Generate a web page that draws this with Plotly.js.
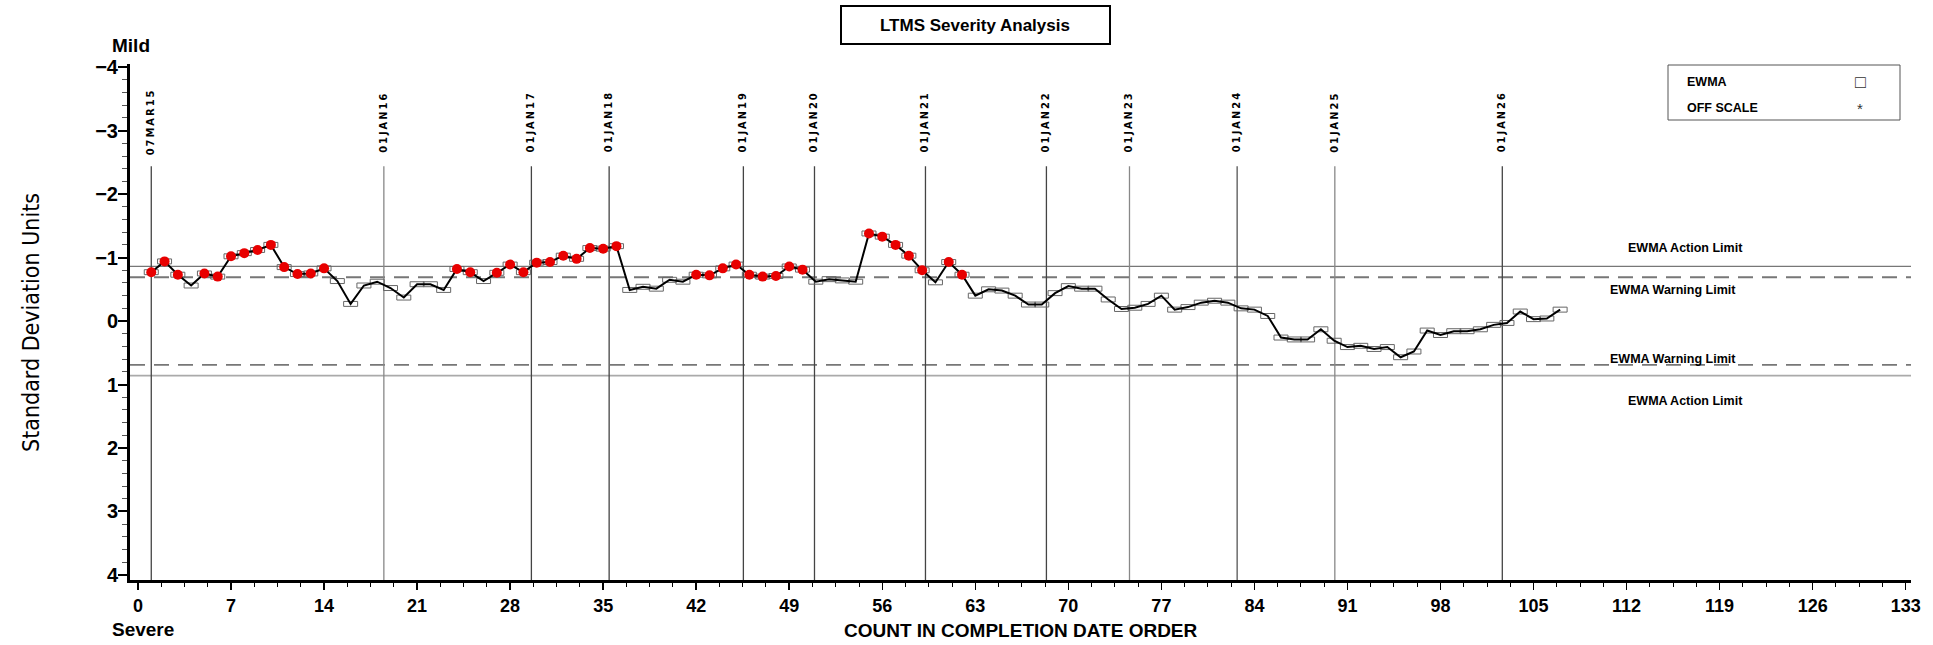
<!DOCTYPE html>
<html><head><meta charset="utf-8">
<script src="https://cdn.plot.ly/plotly-3.0.1.min.js"></script>
<style>html,body{margin:0;padding:0;background:#fff;}#chart{width:1933px;height:645px;}</style>
</head><body><div id="chart"></div>
<script>
// ---------------- data ----------------
const counts = [1,2,3,4,5,6,7,8,9,10,11,12,13,14,15,16,17,18,19,20,21,22,23,24,25,26,27,28,29,30,
  31,32,33,34,35,36,37,38,39,40,41,42,43,44,45,46,47,48,49,50,51,52,53,54,55,56,57,58,59,60,
  61,62,63,64,65,66,67,68,69,70,71,72,73,74,75,76,77,78,79,80,81,82,83,84,85,86,87,88,89,90,
  91,92,93,94,95,96,97,98,99,100,101,102,103,104,105,106,107];
const ewma = [-0.77,-0.94,-0.73,-0.56,-0.75,-0.70,-1.02,-1.07,-1.12,-1.20,
  -0.85,-0.74,-0.75,-0.83,-0.63,-0.27,-0.56,-0.62,-0.52,-0.37,
  -0.58,-0.58,-0.49,-0.82,-0.77,-0.63,-0.76,-0.89,-0.77,-0.92,
  -0.93,-1.03,-0.98,-1.15,-1.14,-1.18,-0.49,-0.54,-0.51,-0.65,
  -0.62,-0.73,-0.72,-0.83,-0.89,-0.73,-0.70,-0.71,-0.86,-0.81,
  -0.62,-0.66,-0.64,-0.62,-1.38,-1.33,-1.20,-1.03,-0.80,-0.61,
  -0.93,-0.73,-0.40,-0.50,-0.48,-0.40,-0.26,-0.26,-0.44,-0.55,
  -0.51,-0.51,-0.34,-0.19,-0.21,-0.27,-0.40,-0.18,-0.22,-0.29,
  -0.32,-0.29,-0.20,-0.18,-0.08,0.26,0.29,0.29,0.13,0.31,
  0.41,0.39,0.44,0.41,0.57,0.48,0.15,0.22,0.16,0.16,
  0.13,0.06,0.03,-0.15,-0.03,-0.04,-0.18];
const flaggedCounts = [1,2,3,5,6,7,8,9,10,11,12,13,14,24,25,27,28,29,30,31,32,33,34,35,36,
  42,43,44,45,46,47,48,49,50,55,56,57,58,59,61,62];
const dateLineCounts = [1,18.5,29.6,35.45,45.55,50.9,59.25,68.35,74.6,82.7,90.05,102.65];
const dateLineLabels = ['07MAR15','01JAN16','01JAN17','01JAN18','01JAN19','01JAN20',
  '01JAN21','01JAN22','01JAN23','01JAN24','01JAN25','01JAN26'];
const limitValues = [-0.86,-0.69,0.69,0.86];
const limitLabels = ['EWMA Action Limit','EWMA Warning Limit','EWMA Warning Limit','EWMA Action Limit'];
const legendLabels = ['EWMA','OFF SCALE'];
const legendSymbols = ['\u25A1','*'];
const yTickVals = [-4,-3,-2,-1,0,1,2,3,4];

// ---------------- layout helpers ----------------
const W = 1933, H = 645;
const M = {l:130, r:22, t:64, b:65};
const PW = W - M.l - M.r, PH = H - M.t - M.b;
const px = x => (x - M.l) / PW;        // pixel -> paper x
const py = y => (H - M.b - y) / PH;    // pixel -> paper y
const NARROW = '"DejaVu Sans Condensed","Liberation Sans Narrow",sans-serif';
const SANS = '"Liberation Sans",Arial,Helvetica,sans-serif';
const BOX_HW = 0.527, BOX_HH = 0.039;

// rectangles (EWMA boxes) built from the data
const bx = [], by = [];
counts.forEach((c,i) => {
  const v = ewma[i];
  bx.push(c-BOX_HW, c+BOX_HW, c+BOX_HW, c-BOX_HW, c-BOX_HW, null);
  by.push(v-BOX_HH, v-BOX_HH, v+BOX_HH, v+BOX_HH, v-BOX_HH, null);
});
const fx = [], fy = [];
counts.forEach((c,i) => { if (flaggedCounts.includes(c)) { fx.push(c); fy.push(ewma[i]); } });

const traces = [
  {x: bx, y: by, type:'scatter', mode:'lines', line:{color:'#666', width:1}, hoverinfo:'skip', showlegend:false},
  {x: counts, y: ewma, type:'scatter', mode:'lines', line:{color:'#000', width:2}, showlegend:false},
  {x: fx, y: fy, type:'scatter', mode:'markers', marker:{color:'#e80000', size:10, line:{width:0}}, showlegend:false}
];

const lineShade = ['#444','#888','#444','#444','#444','#444','#444','#444','#888','#555','#888','#444'];
const shapes = [];
dateLineCounts.forEach((c,i) => {
  shapes.push({type:'line', xref:'x', yref:'y', x0:c, x1:c, y0:-2.44, y1:4.08,
    line:{color:lineShade[i], width:1.3}, layer:'below'});
});
const limitStyles = [
  {color:'#777', width:1.2, dash:'solid'},
  {color:'#777', width:1.8, dash:'15px,9px'},
  {color:'#777', width:1.8, dash:'15px,9px'},
  {color:'#aaa', width:1.6, dash:'solid'}
];
limitValues.forEach((v,i) => {
  shapes.push({type:'line', xref:'paper', yref:'y', x0:0, x1:1, y0:v, y1:v, line:limitStyles[i], layer:'below'});
});
// title box
shapes.push({type:'rect', xref:'paper', yref:'paper', x0:px(841), x1:px(1110), y0:py(44), y1:py(6),
  line:{color:'#000', width:2}});
// legend box
shapes.push({type:'rect', xref:'paper', yref:'paper', x0:px(1668), x1:px(1900), y0:py(120), y1:py(65),
  line:{color:'#555', width:1}});

const annotations = [];
function note(text, x, y, opts) {
  annotations.push(Object.assign({text:text, xref:'paper', yref:'paper', x:px(x), y:py(y),
    xanchor:'center', yanchor:'middle', showarrow:false}, opts));
}
note('LTMS Severity Analysis', 975, 25, {font:{family:SANS, size:17, color:'#000', weight:'bold'}});
note('Mild', 110, 46, {xanchor:'left', font:{family:SANS, size:19, color:'#000', weight:'bold'}});
note('Severe', 110, 629, {xanchor:'left', font:{family:SANS, size:19, color:'#000', weight:'bold'}});
note('COUNT IN COMPLETION DATE ORDER', 1021, 630, {font:{family:SANS, size:19, color:'#000', weight:'bold'}});
note('Standard Deviation Units', 31, 323,
  {textangle:-90, font:{family:NARROW, size:23, color:'#000'}});
dateLineCounts.forEach((c,i) => {
  annotations.push({text:'<span style="letter-spacing:2px">'+dateLineLabels[i]+'</span>', xref:'x', yref:'paper',
    x:c, y:py(122), xanchor:'center', yanchor:'middle', textangle:-90, showarrow:false,
    font:{family:NARROW, size:11, color:'#000', weight:'bold'}});
});
const labelShift = [18, -13, 6, -25];
const labelX = [1685, 1673, 1673, 1685];
limitValues.forEach((v,i) => {
  annotations.push({text:limitLabels[i], xref:'paper', yref:'y', x:px(labelX[i]), y:v, yshift:labelShift[i],
    xanchor:'center', yanchor:'middle', showarrow:false,
    font:{family:SANS, size:12.5, color:'#000', weight:'bold'}});
});
const legY = [82, 108];
legendLabels.forEach((t,i) => {
  note(t, 1685, legY[i], {xanchor:'left', font:{family:SANS, size:12.5, color:'#000', weight:'bold'}});
  note(legendSymbols[i], 1860, legY[i], {font:{family:SANS, size:i===0?18:15, color:'#333'}});
});

const layout = {
  width: W, height: H, margin: M, paper_bgcolor:'#fff', plot_bgcolor:'#fff', showlegend:false,
  xaxis: {range:[-0.6,133.4], tick0:0, dtick:7, showgrid:false, zeroline:false,
    showline:true, linecolor:'#000', linewidth:3, ticks:'outside', ticklen:7, tickwidth:1.5, tickcolor:'#000',
    minor:{tick0:0, dtick:1.75, ticks:'outside', ticklen:4, tickwidth:1, tickcolor:'#000', showgrid:false},
    tickfont:{family:SANS, size:18, color:'#000', weight:'bold'}},
  yaxis: {range:[4.08,-4.05], tickvals:yTickVals, showgrid:false, zeroline:false,
    showline:true, linecolor:'#000', linewidth:3, ticks:'outside', ticklen:9, tickwidth:2, tickcolor:'#000',
    ticklabelstandoff:-4,
    minor:{tick0:0, dtick:0.2, ticks:'outside', ticklen:5, tickwidth:1, tickcolor:'#555', showgrid:false},
    tickfont:{family:SANS, size:20, color:'#000', weight:'bold'}},
  shapes: shapes,
  annotations: annotations
};
Plotly.newPlot('chart', traces, layout, {displayModeBar:false, staticPlot:true});
</script></body></html>
